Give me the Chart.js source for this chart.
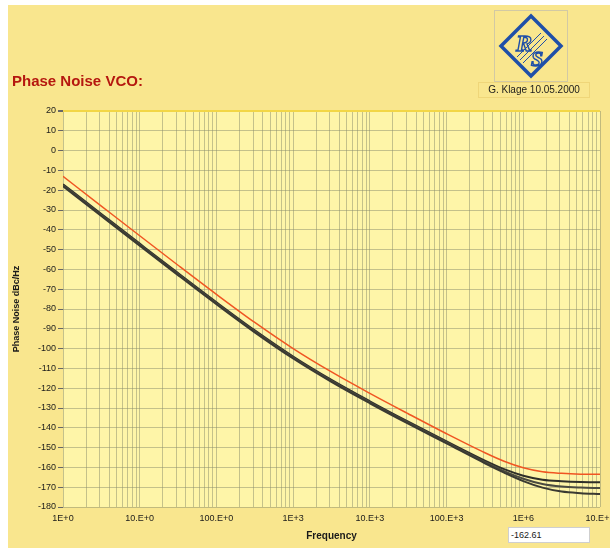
<!DOCTYPE html>
<html>
<head>
<meta charset="utf-8">
<script src="https://cdn.jsdelivr.net/npm/chart.js@4.4.1/dist/chart.umd.min.js"></script>
<style>
  html, body { margin: 0; padding: 0; background: #ffffff; }
  #wrap { position: relative; width: 610px; height: 550px; overflow: hidden; }
  #sheet { position: absolute; left: 8px; top: 5px; width: 602px; height: 543px; background: #F9E68E; }
  #chart { position: absolute; left: 0; top: 0; }
  .title { position: absolute; left: 12px; top: 72px; font: bold 15px 'Liberation Sans', Arial, sans-serif; color: #B5170F; }
  #logo { position: absolute; left: 494px; top: 10px; width: 74px; height: 72px; border: 1px solid #d2c9a4; box-sizing: border-box; }
  .stamp { position: absolute; left: 478px; top: 82px; width: 112px; height: 16px; border: 1px solid #efd679; box-sizing: border-box;
           font: 10px 'Liberation Sans', Arial, sans-serif; color: #1a1a1a; text-align: center; line-height: 14px; }
  .readout { position: absolute; left: 508px; top: 527px; width: 82px; height: 16px; background: #ffffff; border: 1px solid #cfcfcf; box-sizing: border-box;
             font: 9px 'Liberation Sans', Arial, sans-serif; color: #1a1a1a; line-height: 14px; padding-left: 2px; }
</style>
</head>
<body>
<div id="wrap">
  <div id="sheet"></div>
  <canvas id="chart" width="610" height="550"></canvas>
  <div class="title">Phase Noise VCO:</div>
  <div id="logo">
    <svg width="72" height="70" viewBox="0 0 72 70">
      <polygon points="36,5 66,35 36,65 6,35" fill="none" stroke="#1F4FA8" stroke-width="3.5"/>
      <line x1="22" y1="46" x2="46" y2="22" stroke="#1F4FA8" stroke-width="1"/>
      <line x1="25" y1="49" x2="49" y2="25" stroke="#1F4FA8" stroke-width="1"/>
      <line x1="28" y1="52" x2="52" y2="28" stroke="#1F4FA8" stroke-width="1"/>
      <text x="21" y="40" font-family="Liberation Serif, serif" font-style="italic" font-weight="bold" font-size="24" fill="none" stroke="#1F4FA8" stroke-width="1.4">R</text>
      <text x="36" y="55" font-family="Liberation Serif, serif" font-style="italic" font-weight="bold" font-size="22" fill="none" stroke="#1F4FA8" stroke-width="1.4">S</text>
    </svg>
  </div>
  <div class="stamp">G. Klage 10.05.2000</div>
  <div class="readout">-162.61</div>
</div>
<script>
// Offset frequencies (Hz) at which the phase noise traces are sampled
const freqHz = [1, 3.16, 10, 31.6, 100, 316, 1000, 3160, 10000, 31600, 100000, 316000, 562000,
                1000000, 1780000, 3160000, 5620000, 10000000];

// Single sideband phase noise, dBc/Hz
const traceRed = [-13.0, -28.0, -43.0, -57.9, -72.6, -86.8, -100.0, -111.8, -122.6, -132.9, -143.0,
                  -152.6, -156.9, -160.2, -162.2, -163.0, -163.4, -163.5];
const traceBlack1 = [-17.0, -32.0, -47.0, -61.9, -76.6, -90.8, -104.0, -115.8, -126.6, -136.9, -146.9,
                     -156.6, -160.9, -164.2, -166.2, -167.0, -167.4, -167.5];
const traceBlack2 = [-17.5, -32.5, -47.5, -62.4, -77.1, -91.3, -104.5, -116.3, -127.1, -137.4, -147.4,
                     -157.3, -161.9, -165.7, -168.4, -169.7, -170.2, -170.4];
const traceBlack3 = [-18.0, -33.0, -48.0, -62.9, -77.6, -91.8, -105.0, -116.8, -127.6, -137.9, -147.9,
                     -157.9, -162.6, -166.9, -170.2, -172.2, -173.0, -173.4];

// Axis ranges and decade labels
const yMin = -180, yMax = 20, yStep = 10;
const decadeValues = [1, 10, 100, 1000, 10000, 100000, 1000000, 10000000];
const decadeLabels = ['1E+0', '10.E+0', '100.E+0', '1E+3', '10.E+3', '100.E+3', '1E+6', '10.E+6'];

const toPoints = (ys) => ys.map((y, i) => ({ x: freqHz[i], y }));
const family = "'Liberation Sans', Arial, sans-serif";
const gridColor = 'rgba(138,142,108,0.5)';

// Lighter fill behind the plotting area
const plotBackground = {
  id: 'plotBackground',
  beforeDraw(chart) {
    const { ctx, chartArea: a } = chart;
    ctx.save();
    ctx.fillStyle = '#FEF5A8';
    ctx.fillRect(a.left, a.top, a.right - a.left, a.bottom - a.top);
    ctx.restore();
  }
};

const line = (data, color, width) => ({
  data: toPoints(data), borderColor: color, borderWidth: width, pointRadius: 0,
  cubicInterpolationMode: 'monotone', fill: false
});

new Chart(document.getElementById('chart'), {
  type: 'line',
  data: {
    datasets: [
      line(traceBlack3, '#3a3a32', 2),
      line(traceBlack2, '#4a4a40', 2),
      line(traceBlack1, '#2e2e28', 2),
      line(traceRed, '#F05522', 1.5)
    ]
  },
  options: {
    responsive: false,
    animation: false,
    layout: { padding: { left: 8, top: 111, right: 10, bottom: 8 } },
    plugins: { legend: { display: false }, tooltip: { enabled: false } },
    scales: {
      x: {
        type: 'logarithmic',
        min: decadeValues[0],
        max: decadeValues[decadeValues.length - 1],
        afterBuildTicks(scale) {
          const ticks = [];
          for (let d = 0; d < decadeValues.length - 1; d++) {
            for (let m = 1; m <= 9; m++) ticks.push({ value: m * decadeValues[d] });
          }
          ticks.push({ value: decadeValues[decadeValues.length - 1] });
          scale.ticks = ticks;
        },
        afterFit(scale) { scale.height = 35; scale.paddingLeft = 0; scale.paddingRight = 0; },
        ticks: {
          autoSkip: false, maxRotation: 0, minRotation: 0, padding: 6,
          color: '#1a1a1a', font: { family, size: 9 },
          callback(v) { const i = decadeValues.indexOf(v); return i >= 0 ? decadeLabels[i] : ''; }
        },
        grid: { color: gridColor, lineWidth: 1, drawTicks: false },
        border: { display: false },
        title: { display: true, text: 'Frequency', color: '#1a1a1a', padding: { top: 0, bottom: 0 },
                 font: { family, size: 10, weight: 'bold' } }
      },
      y: {
        min: yMin, max: yMax,
        afterFit(scale) { scale.width = 55; },
        ticks: { stepSize: yStep, padding: 2, color: '#1a1a1a', font: { family, size: 9 } },
        grid: {
          color: (c) => c.tick && c.tick.value === yMax ? '#F2D646' : gridColor,
          lineWidth: (c) => c.tick && c.tick.value === yMax ? 2 : 1,
          tickLength: 5, tickColor: '#666'
        },
        border: { display: false },
        title: { display: true, text: 'Phase Noise dBc/Hz', color: '#1a1a1a', padding: { top: 3, bottom: 0 },
                 font: { family, size: 9, weight: 'bold' } }
      }
    }
  },
  plugins: [plotBackground]
});
</script>
</body>
</html>
